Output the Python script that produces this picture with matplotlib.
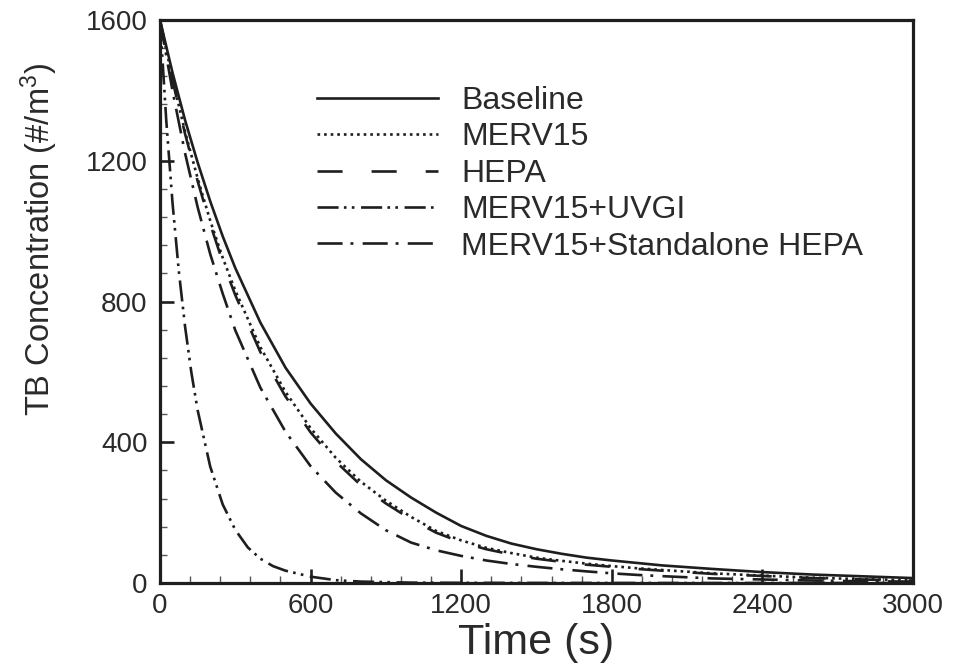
import matplotlib
matplotlib.use("Agg")
import matplotlib.pyplot as plt
from matplotlib.ticker import MultipleLocator

plt.rcParams['font.family'] = ['Liberation Sans', 'DejaVu Sans']
plt.rcParams['mathtext.fontset'] = 'custom'
plt.rcParams['mathtext.rm'] = 'Liberation Sans'
plt.rcParams['mathtext.it'] = 'Liberation Sans'

# ---- data ----
time_s = [0, 50, 100, 150, 200, 250, 300, 400, 500, 600, 700, 800, 900, 1000,
          1100, 1200, 1300, 1400, 1500, 1600, 1700, 1800, 1900, 2000,
          2200, 2400, 2600, 2800, 3000]
baseline = [1600, 1450, 1315, 1195, 1085, 985, 895, 740, 612, 510, 425, 352, 292, 243,
            200, 162, 134, 112, 96, 83, 72, 64, 57, 50,
            40, 31, 24, 19, 14]
merv15 = [1600, 1432, 1282, 1150, 1030, 924, 831, 670, 543, 440, 356, 288, 234, 188,
          148, 121, 100, 85, 72, 63, 55, 48, 42, 37,
          27.5, 21, 15, 11, 8]
hepa = [1600, 1428, 1276, 1142, 1020, 912, 818, 656, 530, 428, 345, 278, 226, 181,
        143, 116, 96, 81, 69, 60, 52, 46, 40, 35,
        26, 20, 14, 10, 7]
merv15_standalone = [1600, 1398, 1221, 1068, 935, 822, 718, 555, 430, 332, 257, 198, 150, 115,
                     93, 77, 64, 54, 46, 39, 33, 27.5, 23, 19.5,
                     13, 10, 7, 5, 4]
time_uvgi = [0, 25, 50, 75, 100, 125, 150, 200, 250, 300, 350, 400, 450, 500,
             600, 700, 800, 1000, 1200, 1500, 2000, 3000]
merv15_uvgi = [1600, 1314, 1079, 886, 728, 598, 491, 331, 223, 151, 101, 69, 48, 35,
               18, 8, 4, 1, 0.5, 0.2, 0, 0]

labels = ["Baseline", "MERV15", "HEPA", "MERV15+UVGI", "MERV15+Standalone HEPA"]
x_ticks = [0, 600, 1200, 1800, 2400, 3000]
y_ticks = [0, 400, 800, 1200, 1600]

ink = '#1e1e1e'
txt = '#2a2a2a'

fig = plt.figure(figsize=(9.74, 6.69), dpi=100)
ax = fig.add_axes([160/974, 1-583/669, (913-160)/974, (583-20)/669])

lw = 1.9
ax.plot(time_s, baseline, color=ink, lw=lw, linestyle='-', label=labels[0])
ax.plot(time_s, merv15, color=ink, lw=lw, linestyle=(0, (1.0, 1.5)), label=labels[1])
ax.plot(time_s, hepa, color=ink, lw=lw, linestyle=(0, (9.5, 11)), label=labels[2])
ax.plot(time_uvgi, merv15_uvgi, color=ink, lw=lw,
        linestyle=(0, (8, 2.0, 1.0, 2.0, 1.0, 2.5)), label=labels[3])
ax.plot(time_s, merv15_standalone, color=ink, lw=lw,
        linestyle=(0, (9.5, 3.0, 1.1, 3.5)), label=labels[4])

ax.set_xlim(0, 3000)
ax.set_ylim(0, 1600)
ax.set_xticks(x_ticks)
ax.set_yticks(y_ticks)
ax.xaxis.set_minor_locator(MultipleLocator(120))
ax.yaxis.set_minor_locator(MultipleLocator(80))

for s in ax.spines.values():
    s.set_linewidth(2.3)
    s.set_color(ink)

ax.tick_params(which='major', direction='in', length=10, width=1.9, color=ink,
               labelsize=20, labelcolor=txt, top=False, right=False)
ax.tick_params(axis='x', which='major', pad=7)
ax.tick_params(axis='y', which='major', pad=9)
ax.tick_params(which='minor', direction='in', length=5, width=1.0, color='#555555',
               top=False, right=False)

ax.set_xlabel('Time (s)', fontsize=31, color=txt, labelpad=3)
ax.set_ylabel(r'TB Concentration (#/m$^{3}$)', fontsize=23.5, color=txt)
ax.yaxis.set_label_coords(-0.133, (583-240)/563)

leg = ax.legend(loc='upper left', bbox_to_anchor=(317/974, 1-86/669),
                bbox_transform=fig.transFigure, frameon=False, fontsize=23,
                handlelength=3.8, handletextpad=0.72, labelspacing=0.2,
                borderpad=0, borderaxespad=0)
for t in leg.get_texts():
    t.set_color(txt)

fig.savefig('out.png', dpi=100)
